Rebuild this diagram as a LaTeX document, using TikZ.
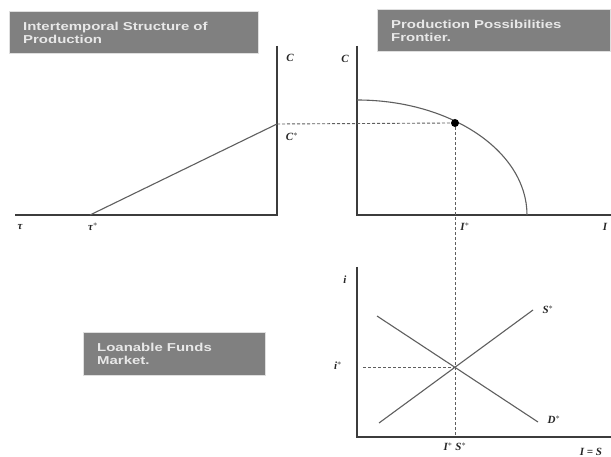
\documentclass[tikz,border=0pt]{standalone}
\usepackage{fontspec}
\setmainfont{Liberation Serif}
\newfontfamily\boxfont[FakeStretch=1.3]{Liberation Sans}
\definecolor{axisgray}{RGB}{60,60,60}
\definecolor{curvegray}{RGB}{95,95,95}
\definecolor{boxgray}{RGB}{128,128,128}
\definecolor{boxtext}{RGB}{232,232,232}
\begin{document}
\begin{tikzpicture}[x=1pt,y=-1pt,
  axis/.style={draw=axisgray,line width=2pt},
  curve/.style={draw=curvegray,line width=1.1pt},
  guide/.style={draw=curvegray,line width=0.9pt,dash pattern=on 3pt off 2pt},
  lbl/.style={font=\fontsize{11}{13}\selectfont\bfseries\itshape,text=black!85,inner sep=0pt},
  titlebox/.style={fill=boxgray,draw=gray!25,line width=1pt,anchor=north west,inner sep=0pt},
  titletext/.style={text=boxtext,font=\boxfont\bfseries\fontsize{11.5}{13}\selectfont,align=left,anchor=west,inner sep=0pt}]
\useasboundingbox[fill=white] (0,0) rectangle (611,457);

% title boxes
\node[titlebox,minimum width=249pt,minimum height=42pt] (tb1) at (9,11) {};
\node[titletext] (tt1) at ([xshift=14pt]tb1.west) {Intertemporal Structure of\\Production};
\node[titlebox,minimum width=233pt,minimum height=42pt] (tb2) at (377,9) {};
\node[titletext] (tt2) at ([xshift=14pt]tb2.west) {Production Possibilities\\Frontier.};
\node[titlebox,minimum width=182pt,minimum height=43pt] (tb3) at (83,332) {};
\node[titletext] (tt3) at ([xshift=14pt]tb3.west) {Loanable Funds\\Market.};

% coordinates
\coordinate (lO) at (277,215);
\coordinate (lT) at (277,46);
\coordinate (lL) at (15,215);
\coordinate (tau) at (90,215);
\coordinate (cst) at (277,124);
\coordinate (rO) at (357,215);
\coordinate (rT) at (357,46);
\coordinate (rR) at (611,215);
\coordinate (ppfTop) at (357,100);
\coordinate (bO) at (357,437);
\coordinate (bT) at (357,267);
\coordinate (bR) at (611,437);
\coordinate (dA) at (377,316);
\coordinate (dB) at (538,422);
\coordinate (sA) at (379,423);
\coordinate (sB) at (533,310);
\coordinate (eq) at (455,367);
\coordinate (eqL) at (363,367);
\coordinate (eqB) at (455,437);

% top left panel
\draw[axis] (lT) -- (lO) -- (lL);
\draw[curve] (tau) -- (cst);

% top right panel
\draw[axis] (rT) -- (rO) -- (rR);
\draw[curve] (ppfTop) arc[start angle=90,end angle=0,x radius=170pt,y radius=115pt];

% bottom panel
\draw[axis] (bT) -- (bO) -- (bR);
\draw[curve] (dA) -- (dB);
\draw[curve] (sA) -- (sB);

% point
\node[circle,fill=black,inner sep=0pt,minimum size=8pt] (pt) at (455,123) {};

% guides
\draw[guide] (cst) -- (pt.west);
\draw[guide] (pt.south) -- (eqB);
\draw[guide] (eqL) -- (eq);

% labels
\node[lbl] (lC) at (290,58) {C};
\node[lbl] (lCs) at (292,137) {C$^{*}$};
\node[lbl] (lt) at (20,227) {τ};
\node[lbl] (lts) at (93,227) {τ$^{*}$};
\node[lbl] (rC) at (345,59) {C};
\node[lbl] (rIs) at (465,227) {I$^{*}$};
\node[lbl] (rI) at (605,227) {I};
\node[lbl] (bi) at (345,280) {i};
\node[lbl] (bis) at (338,366) {i$^{*}$};
\node[lbl] (bSs) at (548,310) {S$^{*}$};
\node[lbl] (bDs) at (554,420) {D$^{*}$};
\node[lbl] (bIS) at (455,447) {I$^{*}$ S$^{*}$};
\node[lbl] (bIeqS) at (591,452) {I = S};
\end{tikzpicture}
\end{document}
